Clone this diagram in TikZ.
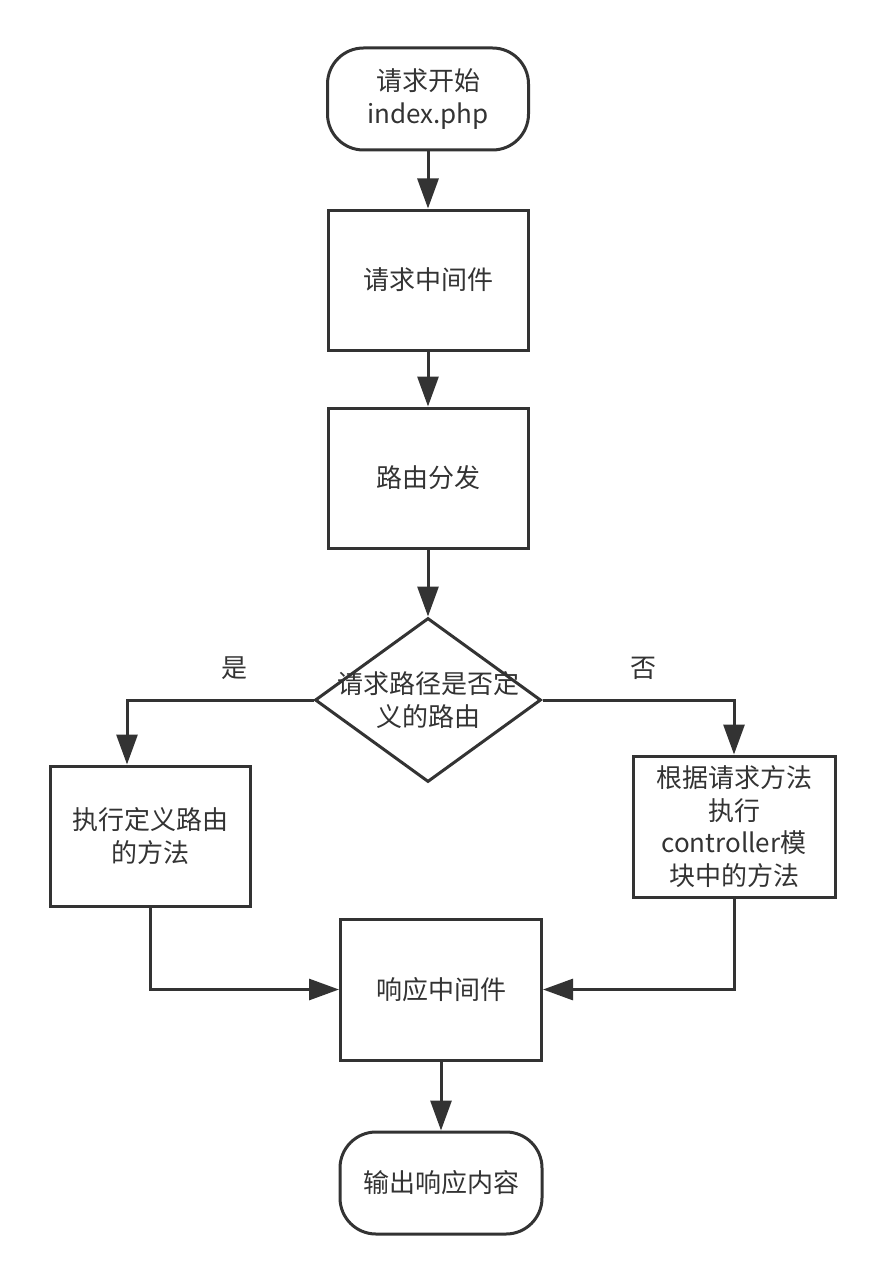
\documentclass[tikz,border=0pt]{standalone}
\usepackage{fontspec}
\setmainfont{Noto Sans CJK SC}
\usetikzlibrary{arrows.meta,shapes.geometric}
\definecolor{ink}{HTML}{333333}
\begin{document}
\begin{tikzpicture}[x=1pt,y=-1pt]
    \tikzstyle{every node}=[text=ink,font=\fontsize{26}{32.5}\selectfont,align=center];
    \tikzstyle{stepbox}=[draw=ink,line width=3pt,shape=rectangle,minimum width=201pt,minimum height=140pt,inner sep=0pt];
    \tikzstyle{terminal}=[stepbox,rounded corners=36pt,minimum height=102pt];
    \tikzstyle{decision}=[draw=ink,line width=3pt,shape=diamond,minimum width=226pt,minimum height=164pt,inner sep=0pt];
    \tikzstyle{flow}=[draw=ink,line width=3pt,-{Triangle[length=30pt,width=21pt]}];
    \useasboundingbox (0,0) rectangle (884,1284);
    %\node (name) at (x,y) [style] {text};
    \node (start) at (428,99) [terminal] {请求开始\\index.php};
    \node (reqmw) at (428,280) [stepbox,minimum width=200pt] {请求中间件};
    \node (route) at (428,478) [stepbox,minimum width=200pt] {路由分发};
    \node (judge) at (428,700) [decision,label={[text=ink]center:请求路径是否定\\义的路由}] {};
    \node (yes) at (234,668) {是};
    \node (no) at (643,668) {否};
    \node (defrun) at (150,836) [stepbox,minimum width=200pt] {执行定义路由\\的方法};
    \node (ctrlrun) at (734,826.5) [stepbox,minimum width=202pt,minimum height=141pt] {根据请求方法\\执行\\controller模\\块中的方法};
    \node (respmw) at (441,989.5) [stepbox,minimum height=141pt] {响应中间件};
    \node (finish) at (441,1183) [terminal,minimum width=202pt] {输出响应内容};
    \draw[flow] (start) -- (reqmw);
    \draw[flow] (reqmw) -- (route);
    \draw[flow] (route) -- (judge);
    \draw[flow] (judge.west) -| ([xshift=-23pt]defrun.north);
    \draw[flow] (judge.east) -| (ctrlrun.north);
    \draw[flow] (defrun.south) |- (respmw.west);
    \draw[flow] (ctrlrun.south) |- (respmw.east);
    \draw[flow] (respmw) -- (finish);
  \end{tikzpicture}
\end{document}
